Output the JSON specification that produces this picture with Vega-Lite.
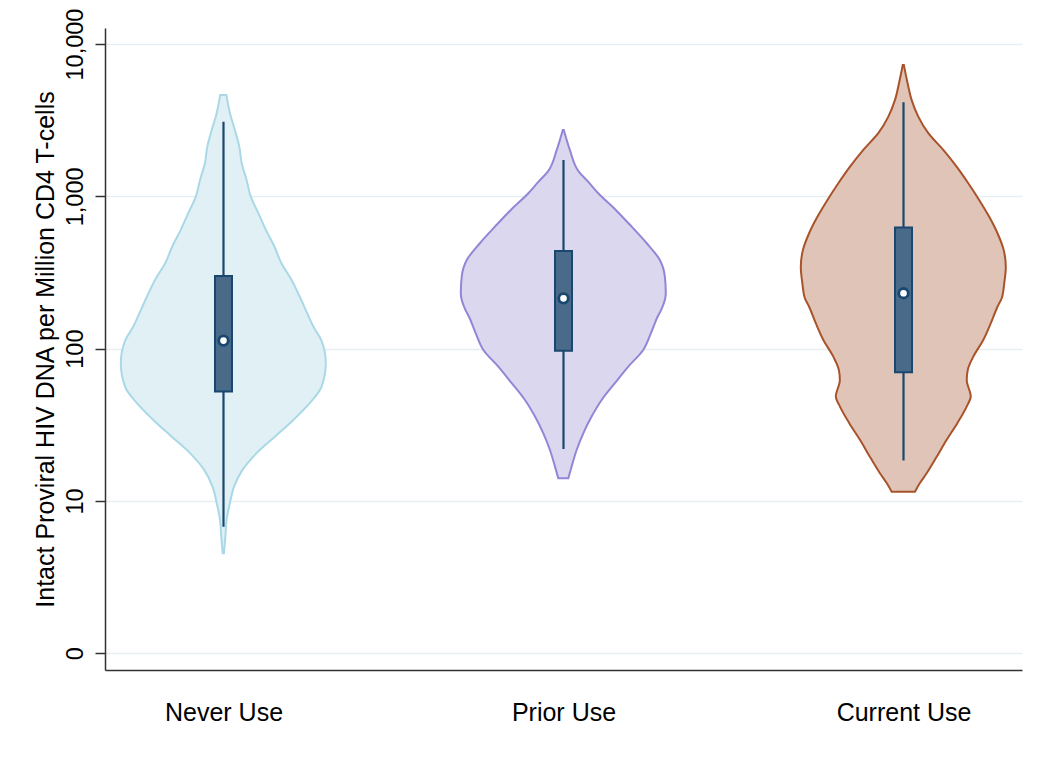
{
  "$schema": "https://vega.github.io/schema/vega-lite/v6.json",
  "width": 917,
  "height": 642,
  "autosize": {"type": "none"},
  "padding": {"left": 105, "top": 28, "right": 28, "bottom": 94},
  "background": "white",
  "config": {
    "font": "Liberation Sans",
    "view": {"stroke": null},
    "axis": {
      "domainColor": "#333333",
      "domainWidth": 1.5,
      "tickColor": "#333333",
      "tickWidth": 1.5,
      "labelColor": "#000000",
      "titleColor": "#000000",
      "titleFontWeight": "normal",
      "gridColor": "#e6eef2",
      "gridWidth": 1.5
    }
  },
  "datasets": {
    "violin": [
      {"group": "Never Use", "ipd": 4634, "density": 0.03},
      {"group": "Never Use", "ipd": 4169, "density": 0.042},
      {"group": "Never Use", "ipd": 3530, "density": 0.064},
      {"group": "Never Use", "ipd": 2729, "density": 0.113},
      {"group": "Never Use", "ipd": 2120, "density": 0.156},
      {"group": "Never Use", "ipd": 1657, "density": 0.179},
      {"group": "Never Use", "ipd": 1282, "density": 0.227},
      {"group": "Never Use", "ipd": 995, "density": 0.268},
      {"group": "Never Use", "ipd": 778, "density": 0.341},
      {"group": "Never Use", "ipd": 602, "density": 0.415},
      {"group": "Never Use", "ipd": 472, "density": 0.496},
      {"group": "Never Use", "ipd": 365, "density": 0.566},
      {"group": "Never Use", "ipd": 282.5, "density": 0.666},
      {"group": "Never Use", "ipd": 219, "density": 0.746},
      {"group": "Never Use", "ipd": 171.5, "density": 0.817},
      {"group": "Never Use", "ipd": 137, "density": 0.885},
      {"group": "Never Use", "ipd": 114, "density": 0.955},
      {"group": "Never Use", "ipd": 80.5, "density": 1.0},
      {"group": "Never Use", "ipd": 56.3, "density": 0.959},
      {"group": "Never Use", "ipd": 44.0, "density": 0.845},
      {"group": "Never Use", "ipd": 34.0, "density": 0.683},
      {"group": "Never Use", "ipd": 26.4, "density": 0.503},
      {"group": "Never Use", "ipd": 20.6, "density": 0.325},
      {"group": "Never Use", "ipd": 16.0, "density": 0.187},
      {"group": "Never Use", "ipd": 12.4, "density": 0.105},
      {"group": "Never Use", "ipd": 9.66, "density": 0.064},
      {"group": "Never Use", "ipd": 7.5, "density": 0.032},
      {"group": "Never Use", "ipd": 5.83, "density": 0.02},
      {"group": "Never Use", "ipd": 4.53, "density": 0.006},

      {"group": "Prior Use", "ipd": 2729, "density": 0.005},
      {"group": "Prior Use", "ipd": 2018, "density": 0.064},
      {"group": "Prior Use", "ipd": 1452, "density": 0.151},
      {"group": "Prior Use", "ipd": 1244, "density": 0.244},
      {"group": "Prior Use", "ipd": 1048, "density": 0.341},
      {"group": "Prior Use", "ipd": 814, "density": 0.512},
      {"group": "Prior Use", "ipd": 632, "density": 0.667},
      {"group": "Prior Use", "ipd": 492, "density": 0.814},
      {"group": "Prior Use", "ipd": 382, "density": 0.942},
      {"group": "Prior Use", "ipd": 297, "density": 0.991},
      {"group": "Prior Use", "ipd": 231, "density": 1.0},
      {"group": "Prior Use", "ipd": 179.5, "density": 0.955},
      {"group": "Prior Use", "ipd": 162, "density": 0.92},
      {"group": "Prior Use", "ipd": 126, "density": 0.854},
      {"group": "Prior Use", "ipd": 98, "density": 0.78},
      {"group": "Prior Use", "ipd": 76.2, "density": 0.634},
      {"group": "Prior Use", "ipd": 59.3, "density": 0.503},
      {"group": "Prior Use", "ipd": 46.0, "density": 0.374},
      {"group": "Prior Use", "ipd": 35.8, "density": 0.276},
      {"group": "Prior Use", "ipd": 27.8, "density": 0.195},
      {"group": "Prior Use", "ipd": 21.6, "density": 0.13},
      {"group": "Prior Use", "ipd": 16.8, "density": 0.081},
      {"group": "Prior Use", "ipd": 14.1, "density": 0.049},

      {"group": "Current Use", "ipd": 7295, "density": 0.005},
      {"group": "Current Use", "ipd": 5530, "density": 0.042},
      {"group": "Current Use", "ipd": 4296, "density": 0.081},
      {"group": "Current Use", "ipd": 3336, "density": 0.146},
      {"group": "Current Use", "ipd": 2596, "density": 0.244},
      {"group": "Current Use", "ipd": 2018, "density": 0.39},
      {"group": "Current Use", "ipd": 1567, "density": 0.52},
      {"group": "Current Use", "ipd": 1219, "density": 0.634},
      {"group": "Current Use", "ipd": 947, "density": 0.74},
      {"group": "Current Use", "ipd": 736, "density": 0.837},
      {"group": "Current Use", "ipd": 572, "density": 0.919},
      {"group": "Current Use", "ipd": 445, "density": 0.979},
      {"group": "Current Use", "ipd": 345, "density": 1.0},
      {"group": "Current Use", "ipd": 269, "density": 0.985},
      {"group": "Current Use", "ipd": 214, "density": 0.96},
      {"group": "Current Use", "ipd": 189, "density": 0.92},
      {"group": "Current Use", "ipd": 147, "density": 0.854},
      {"group": "Current Use", "ipd": 114, "density": 0.78},
      {"group": "Current Use", "ipd": 88.6, "density": 0.683},
      {"group": "Current Use", "ipd": 72.5, "density": 0.629},
      {"group": "Current Use", "ipd": 62.3, "density": 0.619},
      {"group": "Current Use", "ipd": 48.4, "density": 0.658},
      {"group": "Current Use", "ipd": 41.6, "density": 0.618},
      {"group": "Current Use", "ipd": 32.4, "density": 0.527},
      {"group": "Current Use", "ipd": 25.2, "density": 0.423},
      {"group": "Current Use", "ipd": 19.5, "density": 0.326},
      {"group": "Current Use", "ipd": 15.2, "density": 0.228},
      {"group": "Current Use", "ipd": 13.1, "density": 0.162},
      {"group": "Current Use", "ipd": 11.5, "density": 0.114}
    ],
    "box": [
      {"group": "Never Use", "lo": 6.78, "q1": 52.2, "med": 112.9, "q3": 300, "hi": 3093},
      {"group": "Prior Use", "lo": 21.9, "q1": 97.0, "med": 214, "q3": 438, "hi": 1734},
      {"group": "Current Use", "lo": 18.4, "q1": 70.0, "med": 231, "q3": 623, "hi": 4150}
    ]
  },
  "resolve": {"scale": {"x": "independent"}},
  "layer": [
    {
      "data": {"name": "violin"},
      "transform": [{"filter": "datum.group == 'Never Use'"}],
      "mark": {"type": "area", "orient": "horizontal", "interpolate": "monotone", "fill": "#e1f0f5", "fillOpacity": 1, "stroke": "#a9d8e6", "strokeWidth": 2},
      "encoding": {
        "y": {
          "field": "ipd", "type": "quantitative",
          "scale": {"type": "log", "domain": [0.776, 12740], "nice": false},
          "title": "Intact Proviral HIV DNA per Million CD4 T-cells",
          "axis": {
            "values": [1, 10, 100, 1000, 10000],
            "labelExpr": "datum.value == 1 ? '0' : format(datum.value, ',')",
            "labelAngle": -90,
            "labelAlign": "center",
            "labelBaseline": "bottom",
            "labelFontSize": 23.5,
            "labelPadding": 8,
            "tickSize": 10,
            "grid": true,
            "titleFontSize": 25,
            "titlePadding": 5
          }
        },
        "x": {
          "field": "density", "type": "quantitative", "stack": "center", "impute": null,
          "scale": {"domain": [-0.0771, 4.3961], "nice": false, "zero": false},
          "axis": null
        }
      }
    },
    {
      "data": {"name": "violin"},
      "transform": [{"filter": "datum.group == 'Prior Use'"}],
      "mark": {"type": "area", "orient": "horizontal", "interpolate": "monotone", "fill": "#dad7ee", "fillOpacity": 1, "stroke": "#9286d6", "strokeWidth": 2},
      "encoding": {
        "y": {
          "field": "ipd", "type": "quantitative",
          "scale": {"type": "log", "domain": [0.776, 12740], "nice": false},
          "title": "Intact Proviral HIV DNA per Million CD4 T-cells"
        },
        "x": {
          "field": "density", "type": "quantitative", "stack": "center", "impute": null,
          "scale": {"domain": [-1.7356, 2.7376], "nice": false, "zero": false},
          "axis": null
        }
      }
    },
    {
      "data": {"name": "violin"},
      "transform": [{"filter": "datum.group == 'Current Use'"}],
      "mark": {"type": "area", "orient": "horizontal", "interpolate": "monotone", "fill": "#dfc4b7", "fillOpacity": 1, "stroke": "#a8532a", "strokeWidth": 2},
      "encoding": {
        "y": {
          "field": "ipd", "type": "quantitative",
          "scale": {"type": "log", "domain": [0.776, 12740], "nice": false},
          "title": "Intact Proviral HIV DNA per Million CD4 T-cells"
        },
        "x": {
          "field": "density", "type": "quantitative", "stack": "center", "impute": null,
          "scale": {"domain": [-3.3941, 1.079], "nice": false, "zero": false},
          "axis": null
        }
      }
    },
    {
      "data": {"name": "box"},
      "layer": [
        {
          "mark": {"type": "rule", "color": "#1a476f", "strokeWidth": 2.2},
          "encoding": {
            "x": {
              "field": "group", "type": "nominal",
              "scale": {"type": "point", "domain": ["Never Use", "Prior Use", "Current Use"], "padding": 0.3485},
              "title": null,
              "axis": {"ticks": false, "labelAngle": 0, "labelFontSize": 25, "labelPadding": 30, "grid": false}
            },
            "y": {
              "field": "lo", "type": "quantitative",
              "scale": {"type": "log", "domain": [0.776, 12740], "nice": false},
              "title": "Intact Proviral HIV DNA per Million CD4 T-cells"
            },
            "y2": {"field": "hi"}
          }
        },
        {
          "mark": {"type": "bar", "size": 17, "fill": "#4a6a89", "stroke": "#1a476f", "strokeWidth": 2},
          "encoding": {
            "x": {
              "field": "group", "type": "nominal",
              "scale": {"type": "point", "domain": ["Never Use", "Prior Use", "Current Use"], "padding": 0.3485},
              "title": null
            },
            "y": {
              "field": "q1", "type": "quantitative",
              "scale": {"type": "log", "domain": [0.776, 12740], "nice": false},
              "title": "Intact Proviral HIV DNA per Million CD4 T-cells"
            },
            "y2": {"field": "q3"}
          }
        },
        {
          "mark": {"type": "point", "shape": "circle", "filled": true, "fill": "#ffffff", "stroke": "#1a476f", "strokeWidth": 2.8, "size": 90, "opacity": 1},
          "encoding": {
            "x": {
              "field": "group", "type": "nominal",
              "scale": {"type": "point", "domain": ["Never Use", "Prior Use", "Current Use"], "padding": 0.3485},
              "title": null
            },
            "y": {
              "field": "med", "type": "quantitative",
              "scale": {"type": "log", "domain": [0.776, 12740], "nice": false},
              "title": "Intact Proviral HIV DNA per Million CD4 T-cells"
            }
          }
        }
      ]
    }
  ]
}
